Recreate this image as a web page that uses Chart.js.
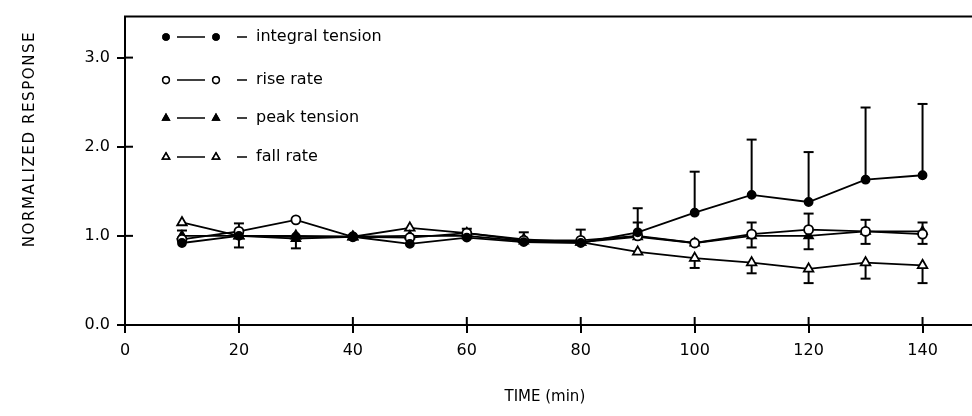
<!DOCTYPE html>
<html><head><meta charset="utf-8">
<script src="https://cdn.jsdelivr.net/npm/chart.js@4/dist/chart.umd.min.js"></script>
<style>html,body{margin:0;padding:0;background:#fff}#wrap{width:972px;height:416px}</style>
</head><body><div id="wrap"><canvas id="c" width="972" height="416"></canvas></div>
<script>
// ---- data ----
const times = [10,20,30,40,50,60,70,80,90,100,110,120,130,140];
const integralTension = [0.92,1.00,0.99,0.99,0.91,0.98,0.93,0.92,1.04,1.26,1.46,1.38,1.63,1.68];
const riseRate        = [0.96,1.05,1.18,0.99,0.98,1.03,0.95,0.95,1.00,0.92,1.02,1.07,1.05,1.02];
const peakTension     = [1.00,1.00,0.97,0.99,1.00,1.00,0.94,0.93,0.99,0.92,1.00,1.00,1.05,1.05];
const fallRate        = [1.15,1.00,1.00,0.99,1.09,1.03,0.96,0.93,0.82,0.75,0.70,0.63,0.70,0.67];
// error bar end values (null = no bar drawn)
const integralTensionErrTop = [1.06,null,null,null,null,null,null,null,1.31,1.72,2.08,1.94,2.44,2.48];
const riseRateErrTop        = [null,1.14,null,null,null,1.08,1.04,1.07,1.15,null,1.15,1.25,1.18,1.15];
const peakTensionErrBottom  = [null,0.87,0.86,null,null,null,null,null,null,null,0.87,0.85,0.91,0.91];
const fallRateErrBottom     = [null,null,null,null,null,null,null,null,null,0.64,0.58,0.47,0.52,0.47];
const xTicks = [0,20,40,60,80,100,120,140];
const yTicks = [0,1,2,3];
const seriesNames = ['integral tension','rise rate','peak tension','fall rate'];
const yTitle = 'NORMALIZED RESPONSE';
const xTitle = 'TIME (min)';

const FONT = '"DejaVu Sans", sans-serif';
const pts = arr => times.map((t,i)=>({x:t,y:arr[i]}));

const styles = [
  {pointStyle:'circle', radius:4, fill:'#000'},
  {pointStyle:'circle', radius:4.5, fill:'#fff'},
  {pointStyle:'triangle', radius:5, fill:'#000'},
  {pointStyle:'triangle', radius:5.5, fill:'#fff'}
];
const seriesData = [integralTension, riseRate, peakTension, fallRate];

const datasets = seriesData.map((d,i)=>({
  label: seriesNames[i],
  data: pts(d),
  borderColor:'#000',
  borderWidth:1.8,
  pointStyle: styles[i].pointStyle,
  pointRadius: styles[i].radius,
  pointBackgroundColor: styles[i].fill,
  pointBorderColor:'#000',
  pointBorderWidth:1.8,
  tension:0,
  fill:false
}));

const errorSets = [
  {ends: integralTensionErrTop},
  {ends: riseRateErrTop},
  {ends: peakTensionErrBottom},
  {ends: fallRateErrBottom}
];

const extras = {
  id:'extras',
  beforeDatasetsDraw(chart){
    const ctx = chart.ctx, xs = chart.scales.x, ys = chart.scales.y, ca = chart.chartArea;
    ctx.save();
    ctx.strokeStyle='#000';
    ctx.lineWidth=2;
    // top frame line
    ctx.beginPath(); ctx.moveTo(ca.left-1, ca.top); ctx.lineTo(chart.width, ca.top); ctx.stroke();
    // extend x axis line to the canvas edge
    ctx.beginPath(); ctx.moveTo(ca.right, ca.bottom); ctx.lineTo(chart.width, ca.bottom); ctx.stroke();
    // inner halves of tick marks
    yTicks.forEach(v=>{const y=ys.getPixelForValue(v); ctx.beginPath(); ctx.moveTo(ca.left,y); ctx.lineTo(ca.left+8,y); ctx.stroke();});
    xTicks.forEach(v=>{const x=xs.getPixelForValue(v); ctx.beginPath(); ctx.moveTo(x,ca.bottom); ctx.lineTo(x,ca.bottom-8); ctx.stroke();});
    // error bars
    errorSets.forEach((s,si)=>{
      s.ends.forEach((e,i)=>{
        if(e===null) return;
        const x = xs.getPixelForValue(times[i]);
        const y0 = ys.getPixelForValue(seriesData[si][i]);
        const y1 = ys.getPixelForValue(e);
        ctx.beginPath(); ctx.moveTo(x,y0); ctx.lineTo(x,y1); ctx.stroke();
        ctx.beginPath(); ctx.moveTo(x-5,y1); ctx.lineTo(x+5,y1); ctx.stroke();
      });
    });
    ctx.restore();
  },
  afterDraw(chart){
    const ctx = chart.ctx;
    ctx.save();
    // y title
    ctx.fillStyle='#000';
    ctx.font = '15px '+FONT;
    try{ ctx.letterSpacing='1.6px'; }catch(e){}
    ctx.translate(30,139);
    ctx.rotate(-Math.PI/2);
    ctx.textAlign='center'; ctx.textBaseline='middle';
    ctx.fillText(yTitle,0,0);
    ctx.restore();
    // legend
    ctx.save();
    const rows=[37,80,118,157];
    seriesNames.forEach((n,i)=>{
      const y=rows[i];
      ctx.strokeStyle='#000'; ctx.fillStyle='#000'; ctx.lineWidth=1.5;
      ctx.beginPath(); ctx.moveTo(177,y); ctx.lineTo(205,y); ctx.stroke();
      [166,216].forEach(cx=>{
        const st=styles[i];
        Chart.helpers.drawPoint(ctx,{pointStyle:st.pointStyle,radius:st.radius*0.75,borderWidth:1.5,rotation:0},cx,y);
        ctx.fillStyle=st.fill; ctx.fill(); ctx.stroke(); ctx.fillStyle='#000';
      });
      ctx.beginPath(); ctx.moveTo(237,y); ctx.lineTo(247,y); ctx.stroke();
      ctx.font='16px '+FONT; ctx.textAlign='left'; ctx.textBaseline='middle';
      ctx.fillText(n,256,y);
    });
    ctx.restore();
  }
};

new Chart(document.getElementById('c'),{
  type:'line',
  data:{datasets},
  options:{
    responsive:false, animation:false, devicePixelRatio:1,
    layout:{padding:{top:9,right:0,left:0,bottom:0}},
    plugins:{legend:{display:false},tooltip:{enabled:false}},
    scales:{
      x:{type:'linear',min:0,max:147.4,
        afterBuildTicks(s){s.ticks = xTicks.map(v=>({value:v}));},
        afterFit(s){s.height=91;},
        grid:{drawOnChartArea:false,tickLength:8,color:'#000',lineWidth:2},
        border:{color:'#000',width:2},
        ticks:{color:'#000',font:{family:FONT,size:16},padding:8,maxRotation:0,callback:v=>String(v)},
        title:{display:true,text:xTitle,color:'#000',font:{family:FONT,size:15},padding:{top:0,bottom:10}}
      },
      y:{type:'linear',min:0,max:3.46,
        afterBuildTicks(s){s.ticks = yTicks.map(v=>({value:v}));},
        afterFit(s){s.width=125;},
        grid:{drawOnChartArea:false,tickLength:8,color:'#000',lineWidth:2},
        border:{color:'#000',width:2},
        ticks:{color:'#000',font:{family:FONT,size:16},padding:7,callback:v=>v.toFixed(1)}
      }
    }
  },
  plugins:[extras]
});
</script>
</body></html>
